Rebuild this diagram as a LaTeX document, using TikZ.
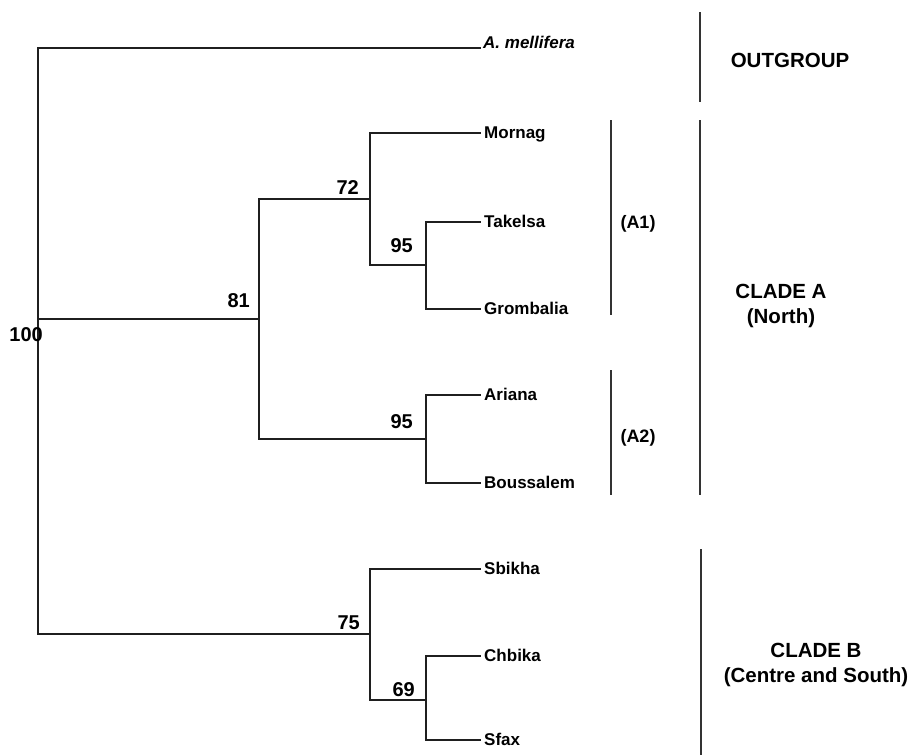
\documentclass[tikz,border=0pt]{standalone}
\usepackage{fontspec}
\setmainfont{Liberation Sans}
\begin{document}
\begin{tikzpicture}[x=1pt,y=1pt,
  branch/.style={line width=1.8pt,draw=black!88},
  bar/.style={line width=1.6pt,draw=black!80},
  leaf/.style={anchor=base west,inner sep=0pt,font=\fontsize{17}{20}\selectfont\bfseries},
  boot/.style={anchor=base east,inner sep=0pt,font=\fontsize{20}{24}\selectfont\bfseries},
  clade/.style={inner sep=0pt,align=center,font=\fontsize{20.5}{25}\selectfont\bfseries},
  sub/.style={inner sep=0pt,font=\fontsize{18}{22}\selectfont\bfseries}]
\useasboundingbox (0,0) rectangle (919,-755);
% internal nodes
\coordinate (root) at (38,-319);
\coordinate (n81) at (259,-319);
\coordinate (n72) at (370,-199);
\coordinate (n95a) at (426,-265);
\coordinate (n95b) at (426,-439);
\coordinate (n75) at (370,-634);
\coordinate (n69) at (426,-700);
% leaf tips
\coordinate (tMel) at (481,-48);
\coordinate (tMor) at (481,-133);
\coordinate (tTak) at (481,-222);
\coordinate (tGro) at (481,-309);
\coordinate (tAri) at (481,-395);
\coordinate (tBou) at (481,-483);
\coordinate (tSbi) at (481,-569);
\coordinate (tChb) at (481,-656);
\coordinate (tSfa) at (481,-740);
% branches
\draw[branch] (root) |- (tMel);
\draw[branch] (root) -- (n81);
\draw[branch] (root) |- (n75);
\draw[branch] (n81) |- (n72);
\draw[branch] (n81) |- (n95b);
\draw[branch] (n72) |- (tMor);
\draw[branch] (n72) |- (n95a);
\draw[branch] (n95a) |- (tTak);
\draw[branch] (n95a) |- (tGro);
\draw[branch] (n95b) |- (tAri);
\draw[branch] (n95b) |- (tBou);
\draw[branch] (n75) |- (tSbi);
\draw[branch] (n75) |- (n69);
\draw[branch] (n69) |- (tChb);
\draw[branch] (n69) |- (tSfa);
% leaf labels
\node[leaf] (lMel) at ([shift={(2,0)}]tMel) {\itshape A. mellifera};
\node[leaf] (lMor) at ([shift={(3,-5)}]tMor) {Mornag};
\node[leaf] (lTak) at ([shift={(3,-5)}]tTak) {Takelsa};
\node[leaf] (lGro) at ([shift={(3,-5)}]tGro) {Grombalia};
\node[leaf] (lAri) at ([shift={(3,-5)}]tAri) {Ariana};
\node[leaf] (lBou) at ([shift={(3,-5)}]tBou) {Boussalem};
\node[leaf] (lSbi) at ([shift={(3,-5)}]tSbi) {Sbikha};
\node[leaf] (lChb) at ([shift={(3,-5)}]tChb) {Chbika};
\node[leaf] (lSfa) at ([shift={(3,-5)}]tSfa) {Sfax};
% bootstrap values
\node[boot] (b100) at ([shift={(5,-22)}]root) {100};
\node[boot] (b81) at ([shift={(-9,12)}]n81) {81};
\node[boot] (b72) at ([shift={(-11,5)}]n72) {72};
\node[boot] (b95a) at ([shift={(-13,13)}]n95a) {95};
\node[boot] (b95b) at ([shift={(-13,11)}]n95b) {95};
\node[boot] (b75) at ([shift={(-10,5)}]n75) {75};
\node[boot] (b69) at ([shift={(-11,4)}]n69) {69};
% group bars
\coordinate (og1) at (700,-12);
\coordinate (og2) at (700,-102);
\coordinate (ca1) at (700,-120);
\coordinate (ca2) at (700,-495);
\coordinate (a11) at (611,-120);
\coordinate (a12) at (611,-315);
\coordinate (a21) at (611,-370);
\coordinate (a22) at (611,-495);
\coordinate (cb1) at (701,-549);
\coordinate (cb2) at (701,-755);
\draw[bar] (og1) -- (og2);
\draw[bar] (ca1) -- (ca2);
\draw[bar] (a11) -- (a12);
\draw[bar] (a21) -- (a22);
\draw[bar] (cb1) -- (cb2);
% group labels
\node[clade] (gOut) at (790,-60) {OUTGROUP};
\node[clade] (gA) at (781,-306) {CLADE A\\(North)};
\node[clade] (gB) at (816,-665) {CLADE B\\(Centre and South)};
\node[sub] (gA1) at (638,-224) {(A1)};
\node[sub] (gA2) at (638,-438) {(A2)};
\end{tikzpicture}
\end{document}
